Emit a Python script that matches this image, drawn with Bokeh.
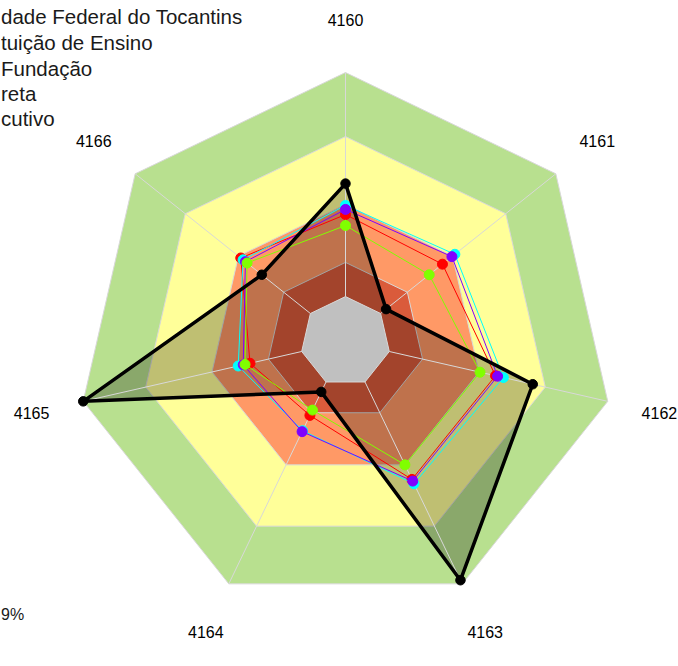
import numpy as np
from bokeh.plotting import figure
from bokeh.models import Range1d
from bokeh.embed import file_html
from bokeh.resources import INLINE
from bokeh.core.properties import value

# ---------------- data ----------------
categories = ["4160", "4161", "4162", "4163", "4164", "4165", "4166"]
series_names = ["dade Federal do Tocantins", "tuição de Ensino", "Fundação", "reta", "cutivo"]
black_vals = [58.7, 19.3, 71.4, 98.5, 20.8, 100.0, 39.8]
red_vals = [47.2, 46.1, 57.2, 56.9, 30.5, 36.4, 49.8]
cyan_vals = [50.6, 52.0, 60.2, 58.7, 36.8, 40.9, 48.7]
purple_vals = [49.1, 50.6, 58.0, 57.6, 37.2, 39.0, 47.6]
green_vals = [43.1, 39.8, 51.3, 50.9, 28.3, 38.3, 46.8]
band_limits = [100.0, 76.2, 50.9, 29.4, 16.7]
band_colors = ["#B8E08F", "#FFFF99", "#FF9966", "#DA5B3B", "#C0C0C0"]
note_text = "9%"

# ---------------- layout ----------------
W, H = 678, 666
PX = 2.69            # pixels per value unit
CX, CY = 345, 325    # centre in canvas pixels (from left, from bottom)
LABEL_R = 119.7

p = figure(width=W, height=H, output_backend="svg", toolbar_location=None,
           x_range=Range1d(-CX / PX, (W - CX) / PX),
           y_range=Range1d(-CY / PX, (H - CY) / PX),
           min_border=0)
p.axis.visible = False
p.grid.visible = False
p.outline_line_color = None
p.background_fill_color = "white"
p.border_fill_color = "white"

n = len(categories)
theta = np.pi / 2 - np.arange(n) * 2 * np.pi / n


def poly(vals):
    v = np.asarray(vals, dtype=float)
    return list(v * np.cos(theta)), list(v * np.sin(theta))


def px_x(x):
    return (x - CX) / PX


def px_y(y_top):
    return (H - y_top - CY) / PX


# bands (all except the central hole)
for r, c in zip(band_limits[:-1], band_colors[:-1]):
    xs, ys = poly([r] * n)
    p.patch(xs, ys, fill_color=c, line_color="#D8D8D8", line_width=1)

# black series area
bx, by = poly(black_vals)
p.patch(bx, by, fill_color="black", fill_alpha=0.25, line_color=None)

# centre hole
hx, hy = poly([band_limits[-1]] * n)
p.patch(hx, hy, fill_color=band_colors[-1], line_color="#D8D8D8", line_width=1)

# spokes
for t in theta:
    p.line([band_limits[-1] * np.cos(t), band_limits[0] * np.cos(t)],
           [band_limits[-1] * np.sin(t), band_limits[0] * np.sin(t)],
           line_color="#D8D8D8", line_width=1)

# colored series
for vals, col in [(red_vals, "#FF0000"), (cyan_vals, "#00FFFF"),
                  (purple_vals, "#8000FF"), (green_vals, "#80FF00")]:
    xs, ys = poly(vals)
    p.line(xs + xs[:1], ys + ys[:1], line_color=col, line_width=1)
    p.scatter(xs, ys, size=10, fill_color=col, line_color=col)

# black series line
p.line(bx + bx[:1], by + by[:1], line_color="black", line_width=3.5)
p.scatter(bx, by, size=9.5, fill_color="black", line_color="black")

# category labels
lx = list(LABEL_R * np.cos(theta))
ly = list(LABEL_R * np.sin(theta))
p.text(lx, ly, text=categories, text_align="center", text_baseline="middle",
       text_font=value("Liberation Sans"), text_font_size="16px", text_color="black")

# legend (cut at the left edge in the reference)
leg_y_px = [16, 42, 68, 93, 118]
p.text([px_x(0.5)] * len(series_names), [px_y(y) for y in leg_y_px], text=series_names,
       text_align="left", text_baseline="middle",
       text_font=value("Liberation Sans"), text_font_size="20.5px", text_color="#1A1A1A")

# bottom-left note
p.text([px_x(0.5)], [px_y(614)], text=[note_text],
       text_align="left", text_baseline="middle",
       text_font=value("Liberation Sans"), text_font_size="16px", text_color="#1A1A1A")

open("out.html", "w").write(file_html(p, INLINE))
